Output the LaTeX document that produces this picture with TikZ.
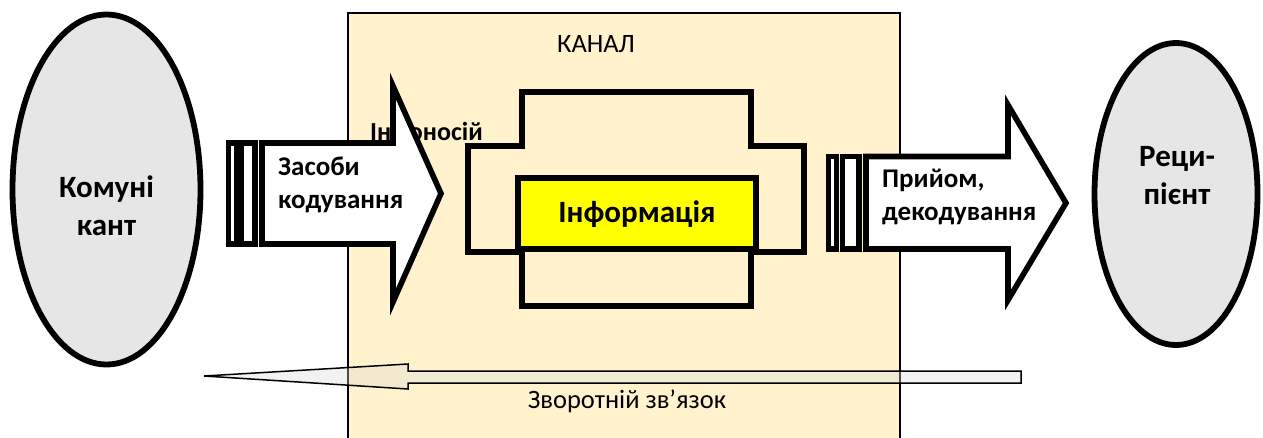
\documentclass[tikz,border=0pt]{standalone}
\usepackage{fontspec}
\setmainfont{Carlito}
\usetikzlibrary{shapes.geometric}
\definecolor{chan}{HTML}{FFF2CC}
\definecolor{ellfill}{HTML}{E6E6E6}
\definecolor{infoyel}{HTML}{FFFF00}
\begin{document}
\begin{tikzpicture}[x=1pt,y=-1pt,
  outl/.style={draw=black,line width=5.6pt,line join=miter},
  blk/.style={outl,fill=white},
  lbl/.style={font=\bfseries\fontsize{27}{33}\selectfont,inner sep=0pt,align=left,text=black},
  big/.style={font=\bfseries\fontsize{31}{38}\selectfont,inner sep=0pt,align=center,text=black},
  plain/.style={font=\fontsize{26.5}{31}\selectfont,inner sep=0pt,text=black},
  ell/.style={ellipse,draw=black,line width=5.8pt,fill=ellfill,inner sep=0pt}]
\useasboundingbox (0,0) rectangle (1263,437);
% channel
\path[fill=chan,draw=black,line width=2pt] (348,450) -- (348,13) -- (900,13) -- (900,450);
\node[plain,anchor=base] (kanal) at (596,52) {КАНАЛ};
\node[font=\bfseries\fontsize{26}{31}\selectfont,inner sep=0pt,anchor=base west] (nosii) at (370,140) {Інфоносій};
% carrier cross
\draw[outl,fill=chan] (522,92) -- (751,92) -- (751,146) -- (804,146) -- (804,252) -- (751,252)
  -- (751,306) -- (522,306) -- (522,252) -- (468,252) -- (468,146) -- (522,146) -- cycle;
\draw[outl,fill=infoyel] (518,178) rectangle (756,249);
\node[big,anchor=base] (info) at (637,222) {Інформація};
% left striped arrow
\draw[blk] (228.5,143) rectangle (236.5,244);
\draw[blk] (241.5,143) rectangle (255,244);
\draw[blk] (262,143) -- (393,143) -- (393,86) -- (441,193.5) -- (393,302) -- (393,244) -- (262,244) -- cycle;
\node[lbl,anchor=west] (zasoby) at (278,185) {Засоби\\кодування};
% right striped arrow
\draw[blk] (828.5,156.5) rectangle (836.5,249);
\draw[blk] (842.5,156.5) rectangle (859,249);
\draw[blk] (866,156.5) -- (1008,156.5) -- (1008,105) -- (1066,203) -- (1008,300) -- (1008,249) -- (866,249) -- cycle;
\node[lbl,anchor=west] (pryiom) at (882,197) {Прийом,\\декодування};
% feedback arrow
\draw[line width=1.5pt,line join=miter,fill=black!15,fill opacity=0.35] (204,376) -- (408,364) -- (408,371)
  -- (1021,371) -- (1021,383) -- (408,383) -- (408,389) -- cycle;
\node[plain,anchor=base] (zvorot) at (627,408) {Зворотній зв’язок};
% ellipses
\node[ell,minimum width=188pt,minimum height=350pt] (komm) at (106.5,189.5) {};
\node[big] (kommt) at (106.5,206) {Комуні\\кант};
\node[ell,minimum width=163pt,minimum height=302pt] (recip) at (1176,194) {};
\node[big] (recipt) at (1177,176) {Реци-\\пієнт};
\end{tikzpicture}
\end{document}
